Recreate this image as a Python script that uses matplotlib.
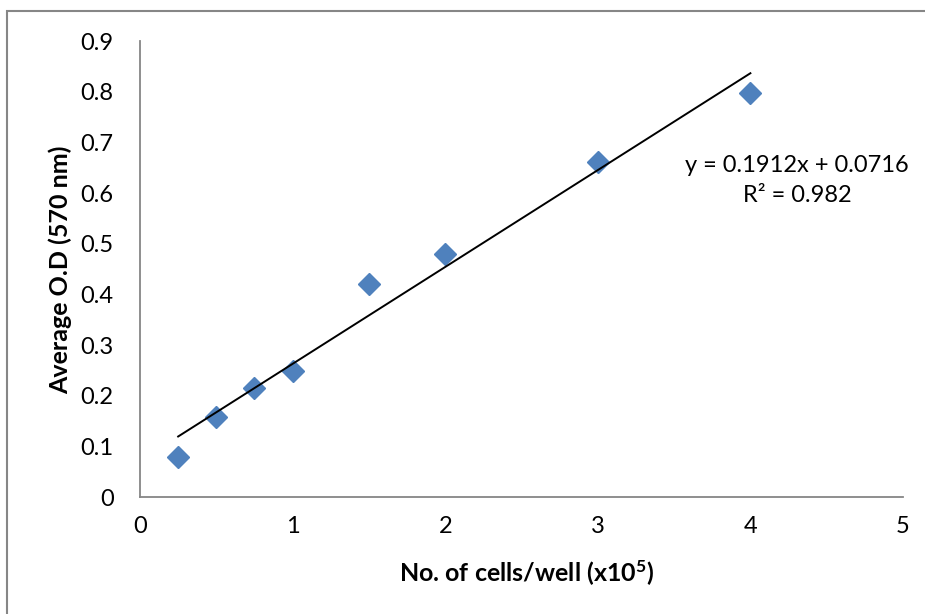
import matplotlib
matplotlib.use("Agg")
import matplotlib.pyplot as plt
import numpy as np
from matplotlib.patches import Rectangle

cells = [0.25, 0.5, 0.75, 1.0, 1.5, 2.0, 3.0, 4.0]
od = [0.079, 0.158, 0.215, 0.249, 0.420, 0.480, 0.661, 0.797]
slope, intercept = 0.1912, 0.0716
xticks = [0, 1, 2, 3, 4, 5]
yticks = [0, 0.1, 0.2, 0.3, 0.4, 0.5, 0.6, 0.7, 0.8, 0.9]

plt.rcParams['font.family'] = ['Lato', 'DejaVu Sans']
plt.rcParams['mathtext.default'] = 'regular'

W, H = 925, 614
fig = plt.figure(figsize=(W/100, H/100), dpi=100)
ax = fig.add_axes([140/W, 1-497/H, (903-140)/W, (497-41)/H])

ax.plot(cells, od, linestyle='none', marker='D', markersize=11.5,
        color='#4F81BD', markeredgecolor='#4F81BD')
xf = np.array([cells[0], cells[-1]])
ax.plot(xf, slope*xf + intercept, color='black', lw=1.4)

ax.set_xlim(0, 5)
ax.set_ylim(0, 0.9)
ax.set_xticks(xticks)
ax.set_xticklabels([str(t) for t in xticks])
ax.set_yticks(yticks)
ax.set_yticklabels(['0'] + [f'{t:.1f}' for t in yticks[1:]])
ax.tick_params(length=0, labelsize=17)
ax.tick_params(axis='y', pad=19)
ax.tick_params(axis='x', pad=14)
for s in ['top', 'right']:
    ax.spines[s].set_visible(False)
for s in ['left', 'bottom']:
    ax.spines[s].set_color('#868686')
    ax.spines[s].set_linewidth(1.3)

fig.text(60/W, 1-270/H, 'Average O.D (570 nm)', rotation=90, ha='center', va='center',
         fontsize=18, fontweight='bold')
fig.text(527/W, 1-573/H, 'No. of cells/well (x10$^{5}$)', ha='center', va='center',
         fontsize=18, fontweight='bold')

fig.text(797/W, 1-166/H, f'y = {slope}x + {intercept}', ha='center', va='center', fontsize=17)
fig.text(797/W, 1-196/H, 'R² = 0.982', ha='center', va='center', fontsize=17)

fig.patches.append(Rectangle((7/W, -0.1), 1.2, 1-11/H+0.1, transform=fig.transFigure,
                             fill=False, edgecolor='#868686', linewidth=1.5))

fig.savefig('out.png', dpi=100)
